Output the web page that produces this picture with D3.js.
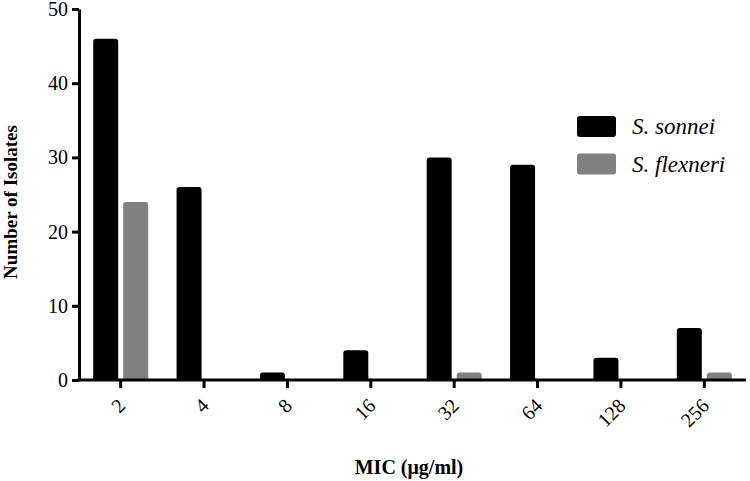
<!DOCTYPE html>
<html>
<head>
<meta charset="utf-8">
<script src="https://cdn.jsdelivr.net/npm/d3@7"></script>
<style>
  body { margin: 0; background: #fff; }
</style>
</head>
<body>
<div class="chart"></div>
<script>
const mics = ["2", "4", "8", "16", "32", "64", "128", "256"];
const sonnei = [46, 26, 1, 4, 30, 29, 3, 7];
const flexneri = [24, 0, 0, 0, 1, 0, 0, 1];
const seriesNames = ["S. sonnei", "S. flexneri"];
const seriesColors = ["#000000", "#808080"];
const yTicks = [0, 10, 20, 30, 40, 50];

const FONT = "Liberation Serif";
const W = 750, H = 481;
const margin = {top: 9, right: 4, bottom: 101, left: 79};
const width = W - margin.left - margin.right,
      height = H - margin.top - margin.bottom;

const svg = d3.select(".chart").append("svg")
    .attr("width", W)
    .attr("height", H)
    .attr("font-family", FONT);

const g = svg.append("g")
    .attr("transform", "translate(" + margin.left + "," + margin.top + ")");

const xScale = d3.scaleBand()
    .domain(mics)
    .range([0, 667]);

const yScale = d3.scaleLinear()
    .domain([0, 50])
    .range([height, 0]);

// bars
const barW = 25, gap = 2.5;
const rows = mics.map((m, i) => ({mic: m, vals: [sonnei[i], flexneri[i]]}));

const groups = g.selectAll(".grp")
    .data(rows)
    .join("g")
    .attr("class", "grp")
    .attr("transform", d => "translate(" + (xScale(d.mic) + xScale.bandwidth() / 2) + ",0)");

groups.selectAll("path")
    .data(d => d.vals.map((v, k) => ({v: v, k: k})).filter(e => e.v > 0))
    .join("path")
    .attr("fill", e => seriesColors[e.k])
    .attr("d", e => {
        const x0 = e.k === 0 ? -gap - barW : gap;
        const y0 = yScale(e.v), y1 = yScale(0), r = 3;
        return "M" + x0 + "," + y1 +
            "V" + (y0 + r) +
            "Q" + x0 + "," + y0 + " " + (x0 + r) + "," + y0 +
            "H" + (x0 + barW - r) +
            "Q" + (x0 + barW) + "," + y0 + " " + (x0 + barW) + "," + (y0 + r) +
            "V" + y1 + "Z";
    });

// y axis
const yAxis = d3.axisLeft(yScale)
    .tickValues(yTicks)
    .tickSize(7)
    .tickPadding(4)
    .tickSizeOuter(0);

g.append("g")
    .attr("class", "y-axis")
    .call(yAxis)
    .call(a => a.attr("font-family", FONT))
    .call(a => a.select(".domain").attr("stroke-width", 3))
    .call(a => a.selectAll(".tick line").attr("stroke-width", 3))
    .call(a => a.selectAll(".tick text")
        .attr("font-family", FONT)
        .attr("font-size", 20)
        .attr("fill", "#000"));

// x axis
const xAxis = d3.axisBottom(xScale)
    .tickSize(8)
    .tickSizeOuter(0);

g.append("g")
    .attr("class", "x-axis")
    .attr("transform", "translate(0," + height + ")")
    .call(xAxis)
    .call(a => a.attr("font-family", FONT))
    .call(a => a.select(".domain").attr("stroke-width", 3).attr("d", "M-1.5,0H667"))
    .call(a => a.selectAll(".tick line").attr("stroke-width", 3))
    .call(a => a.selectAll(".tick text")
        .attr("font-family", FONT)
        .attr("font-size", 20)
        .attr("fill", "#000")
        .attr("text-anchor", "end")
        .attr("x", 0)
        .attr("y", 0)
        .attr("dy", null)
        .attr("transform", "translate(6,27) rotate(-45)"));

// axis titles
svg.append("text")
    .attr("transform", "translate(17,202) rotate(-90)")
    .attr("text-anchor", "middle")
    .attr("font-family", FONT)
    .attr("font-weight", "bold")
    .attr("font-size", 19)
    .text("Number of Isolates");

svg.append("text")
    .attr("x", 409)
    .attr("y", 474)
    .attr("text-anchor", "middle")
    .attr("font-family", FONT)
    .attr("font-weight", "bold")
    .attr("font-size", 20)
    .text("MIC (\u03bcg/ml)");

// legend
const legend = svg.append("g")
    .attr("transform", "translate(577,116)");

const li = legend.selectAll("g")
    .data(seriesNames)
    .join("g")
    .attr("transform", (d, i) => "translate(0," + (i * 37.5) + ")");

li.append("rect")
    .attr("width", 39)
    .attr("height", 21)
    .attr("rx", 3)
    .attr("fill", (d, i) => seriesColors[i]);

li.append("text")
    .attr("x", 55)
    .attr("y", 18)
    .attr("font-family", FONT)
    .attr("font-style", "italic")
    .attr("font-size", 23)
    .text(d => d);
</script>
</body>
</html>
